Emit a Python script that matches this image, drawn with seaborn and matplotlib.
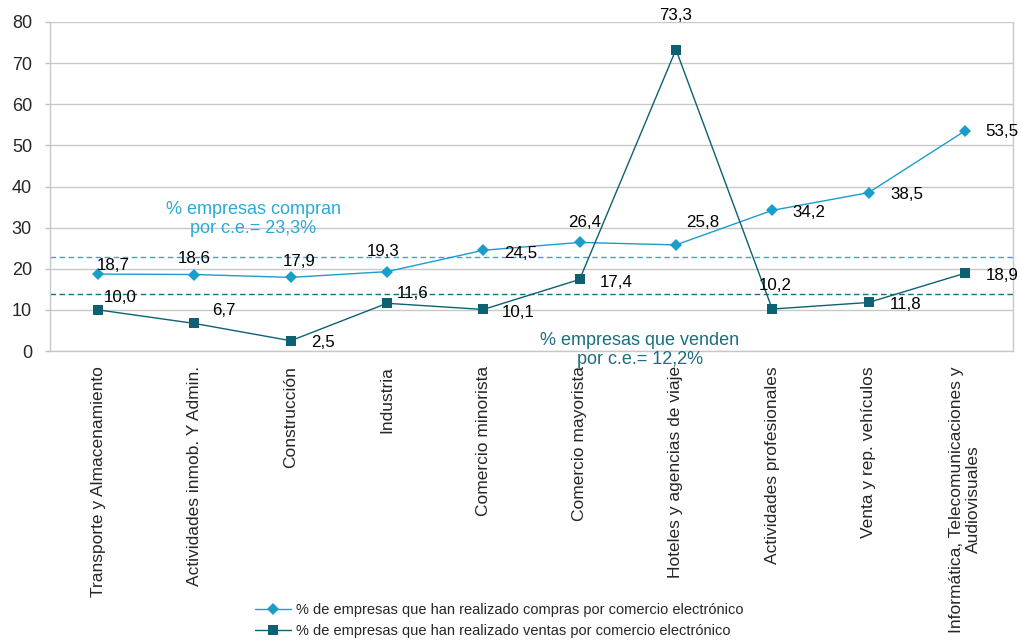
import matplotlib
matplotlib.use("Agg")
import matplotlib.pyplot as plt
import seaborn as sns
import pandas as pd

categories = [
    "Transporte y Almacenamiento",
    "Actividades inmob. Y Admin.",
    "Construcción",
    "Industria",
    "Comercio minorista",
    "Comercio mayorista",
    "Hoteles y agencias de viaje",
    "Actividades profesionales",
    "Venta y rep. vehículos",
    "Informática, Telecomunicaciones y\nAudiovisuales",
]
compras = [18.7, 18.6, 17.9, 19.3, 24.5, 26.4, 25.8, 34.2, 38.5, 53.5]
ventas = [10.0, 6.7, 2.5, 11.6, 10.1, 17.4, 73.3, 10.2, 11.8, 18.9]
series_names = [
    "% de empresas que han realizado compras por comercio electrónico",
    "% de empresas que han realizado ventas por comercio electrónico",
]
ref_compras = 22.8
ref_ventas = 13.8
ref_labels = ["% empresas compran\npor c.e.= 23,3%", "% empresas que venden\npor c.e.= 12,2%"]
yticks = [0, 10, 20, 30, 40, 50, 60, 70, 80]

# label offsets (pixels) for data labels
off_compras = [(15, 9), (0, 16), (8, 16), (-4, 20), (37, -3), (5, 20), (27, 22), (37, -2), (38, -2), (37, -1)]
off_ventas = [(22, 12), (29, 13), (32, -2), (26, 10), (35, -3), (37, -3), (0, 34), (3, 24), (37, -2), (37, -2)]

c_compras = "#1b9dcb"
c_ventas = "#0d6172"
c_ref_compras = "#2aaad8"
c_ref_ventas = "#1a6e80"

sns.set_theme(style="white")
plt.rcParams["font.family"] = ["Liberation Sans", "DejaVu Sans"]

fig = plt.figure(figsize=(10.21, 6.41), dpi=100)
ax = fig.add_axes([50 / 1021, 1 - 351 / 641, (1013 - 50) / 1021, (351 - 22) / 641])

df = pd.DataFrame({"cat": categories * 2,
                   "val": compras + ventas,
                   "serie": [series_names[0]] * len(categories) + [series_names[1]] * len(categories)})

sns.lineplot(data=df[df.serie == series_names[0]], x="cat", y="val", color=c_compras,
             marker="D", markersize=6.2, markeredgewidth=0, linewidth=1.0, ax=ax, sort=False,
             label=series_names[0])
sns.lineplot(data=df[df.serie == series_names[1]], x="cat", y="val", color=c_ventas,
             marker="s", markersize=7.2, markeredgewidth=0, linewidth=1.0, ax=ax, sort=False,
             label=series_names[1])

ax.axhline(ref_compras, color=c_ref_compras, linestyle=(0, (4, 2.5)), linewidth=1.0, zorder=1)
ax.axhline(ref_ventas, color=c_ref_ventas, linestyle=(0, (4, 2.5)), linewidth=1.0, zorder=1)

for i, v in enumerate(compras):
    ax.annotate(f"{v:.1f}".replace(".", ","), (i, v), xytext=(off_compras[i][0], off_compras[i][1]),
                textcoords="offset pixels", ha="center", va="center", fontsize=12.2, color="black")
for i, v in enumerate(ventas):
    ax.annotate(f"{v:.1f}".replace(".", ","), (i, v), xytext=(off_ventas[i][0], off_ventas[i][1]),
                textcoords="offset pixels", ha="center", va="center", fontsize=12.2, color="black")

ax.annotate(ref_labels[0], (253 / 1021, 1 - 219 / 641), xycoords="figure fraction",
            ha="center", va="center", fontsize=13, color=c_ref_compras, linespacing=1.16)
ax.annotate(ref_labels[1], (640 / 1021, 1 - 350 / 641), xycoords="figure fraction",
            ha="center", va="center", fontsize=13, color=c_ref_ventas, linespacing=1.16,
            annotation_clip=False)

ax.set_xlim(-0.5, len(categories) - 0.5)
ax.set_ylim(0, 80)
ax.set_yticks(yticks)
ax.set_yticklabels([str(t) for t in yticks], fontsize=13)
ax.set_xticks(range(len(categories)))
ax.set_xticklabels(categories, rotation=90, ha="center", va="top", fontsize=12.5,
                   multialignment="center")
ax.set_xticks([i - 0.5 for i in range(len(categories) + 1)], minor=True)
ax.tick_params(axis="x", which="major", length=0, pad=11)
ax.tick_params(axis="x", which="minor", length=3.6, color="#bfbfbf", width=1)
ax.tick_params(axis="y", length=3.6, color="#bfbfbf", width=1, pad=9.4, left=True)
ax.set_xlabel("")
ax.set_ylabel("")
ax.grid(axis="y", color="#c8c8c8", linewidth=1)
ax.set_axisbelow(True)
for s in ax.spines.values():
    s.set_color("#c8c8c8")
    s.set_linewidth(1)
ax.spines["top"].set_visible(False)

handles, labels = ax.get_legend_handles_labels()
ax.get_legend().remove()
fig.legend(handles, labels, loc="upper left", bbox_to_anchor=(255 / 1021, 1 - 603 / 641),
           frameon=False, fontsize=10.5, handlelength=2.5, labelspacing=0.5,
           handletextpad=0.34, borderaxespad=0, borderpad=0)

fig.savefig("out.png", dpi=100)
